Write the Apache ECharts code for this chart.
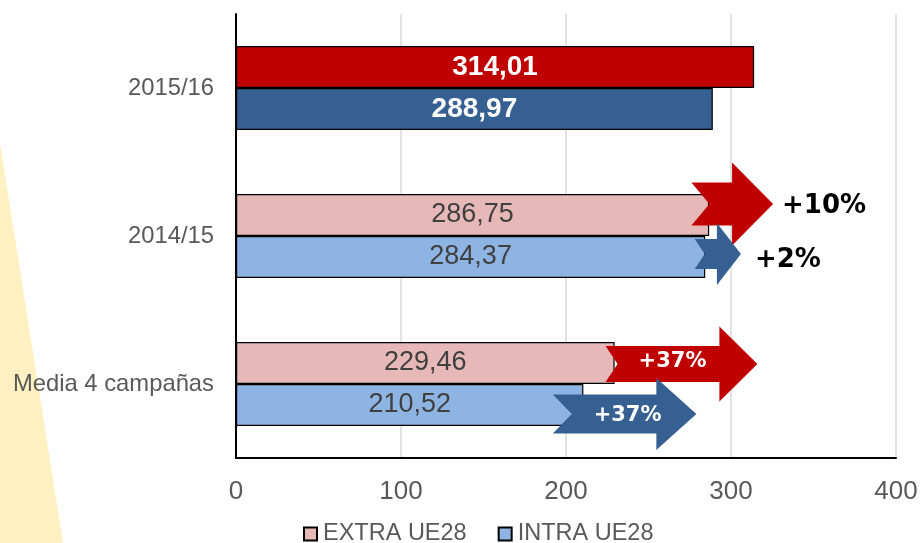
<!DOCTYPE html>
<html><head><meta charset="utf-8">
<script src="https://cdn.jsdelivr.net/npm/echarts@6/dist/echarts.min.js"></script>
<style>html,body{margin:0;padding:0;background:#fff}#c{width:921px;height:543px}</style>
</head><body><div id="c"></div>
<script>
// ---- data ----
const categories = ['2015/16', '2014/15', 'Media 4 campañas'];
const extraValues = [314.01, 286.75, 229.46];
const intraValues = [288.97, 284.37, 210.52];
const xTicks = [0, 100, 200, 300, 400];
const seriesNames = ['EXTRA UE28', 'INTRA UE28'];
const arrowCategories = ['2014/15', '2014/15', 'Media 4 campañas', 'Media 4 campañas'];
const arrowFrom = [276, 278, 224, 192];
const arrowTo = [325.5, 306, 316, 279];
const arrowLabels = ['+10%', '+2%', '+37%', '+37%'];

// ---- styles ----
const arrowStyles = [
  {color:'#C00000', shaft:43, head:83, headLen:41, notch:18, dy:-32, label:'right', dx:9, ldy:2, fs:26, fc:'#000'},
  {color:'#376092', shaft:30, head:62, headLen:24, notch:10, dy:18, label:'right', dx:14, ldy:6, fs:26, fc:'#000'},
  {color:'#C00000', shaft:36, head:75, headLen:38, notch:12, dy:-20, label:'inside', dx:-9, ldy:-2, fs:21, fc:'#fff'},
  {color:'#376092', shaft:39, head:72, headLen:40, notch:19, dy:30, label:'inside', dx:3, ldy:2, fs:21, fc:'#fff'}
];
const FONT = '"Liberation Sans", Arial, sans-serif';
const fmt = v => Number(v).toFixed(2).replace('.', ',');

function renderArrow(params, api) {
  const i = params.dataIndex;
  const s = arrowStyles[i];
  const p0 = api.coord([api.value(0), api.value(1)]);
  const p1 = api.coord([api.value(2), api.value(1)]);
  const cy = p0[1] + s.dy;
  const x0 = p0[0], xt = p1[0], xh = xt - s.headLen;
  const hs = s.shaft / 2, hh = s.head / 2;
  const pts = [[x0, cy - hs], [xh, cy - hs], [xh, cy - hh], [xt, cy], [xh, cy + hh], [xh, cy + hs], [x0, cy + hs], [x0 + s.notch, cy]];
  let tx, align;
  if (s.label === 'right') { tx = xt + s.dx; align = 'left'; }
  else { tx = (x0 + xt) / 2 + s.dx; align = 'center'; }
  return {
    type: 'group',
    children: [
      {type: 'polygon', shape: {points: pts}, style: {fill: s.color}},
      {type: 'text', style: {text: arrowLabels[i], x: tx, y: cy + s.ldy, align: align, verticalAlign: 'middle',
        fill: s.fc, fontSize: s.fs, fontWeight: 'bold', fontFamily: '"DejaVu Sans", Verdana, sans-serif'}}
    ]
  };
}

const darkLabel = {color: '#fff', fontWeight: 'bold', fontSize: 28};
const chart = echarts.init(document.getElementById('c'), null, {renderer: 'canvas'});
chart.setOption({
  animation: false,
  backgroundColor: '#fff',
  graphic: [{
    type: 'polygon', z: -10, silent: true,
    shape: {points: [[0, 143], [63, 543], [0, 543]]},
    style: {fill: '#FFF0C1'}
  }],
  grid: {left: 236, right: 25, top: 14, bottom: 85, containLabel: false, outerBoundsMode: 'none'},
  legend: {
    data: seriesNames,
    left: 303, top: 522, padding: 0,
    itemWidth: 13, itemHeight: 13, itemGap: 31,
    icon: 'rect',
    textStyle: {fontFamily: FONT, fontSize: 23.5, lineHeight: 24, color: '#595959', padding: [0, 0, 0, 1]}
  },
  xAxis: {
    type: 'value', min: xTicks[0], max: xTicks[xTicks.length - 1], interval: xTicks[1] - xTicks[0],
    axisLine: {show: true, lineStyle: {color: '#000', width: 2}},
    axisTick: {show: false},
    splitLine: {show: true, lineStyle: {color: '#D9D9D9', width: 1.5}},
    axisLabel: {fontFamily: FONT, fontSize: 26, color: '#595959', margin: 21, formatter: v => String(v)}
  },
  yAxis: {
    type: 'category', data: categories, inverse: true,
    axisLine: {show: true, lineStyle: {color: '#000', width: 2}},
    axisTick: {show: false},
    splitLine: {show: false},
    axisLabel: {fontFamily: FONT, fontSize: 23.8, color: '#595959', margin: 22}
  },
  series: [
    {
      name: seriesNames[0], type: 'bar', barWidth: 42, barGap: '0%',
      itemStyle: {color: '#E6B9B8', borderColor: '#000', borderWidth: 1.2},
      label: {show: true, position: 'inside', fontFamily: FONT, fontSize: 27, color: '#404040', formatter: p => fmt(p.value)},
      data: extraValues.map((v, i) => i === 0 ? {value: v, itemStyle: {color: '#C00000'}, label: darkLabel} : v)
    },
    {
      name: seriesNames[1], type: 'bar', barWidth: 42, barGap: '0%',
      itemStyle: {color: '#8EB4E3', borderColor: '#000', borderWidth: 1.2},
      label: {show: true, position: 'inside', fontFamily: FONT, fontSize: 27, color: '#404040', formatter: p => fmt(p.value)},
      data: intraValues.map((v, i) => i === 0 ? {value: v, itemStyle: {color: '#376092'}, label: darkLabel} : v)
    },
    {
      name: 'arrows', type: 'custom', z: 10, clip: false,
      renderItem: renderArrow,
      encode: {x: [0, 2], y: 1},
      data: arrowFrom.map((f, i) => [f, categories.indexOf(arrowCategories[i]), arrowTo[i]])
    }
  ]
});
</script>
</body></html>
